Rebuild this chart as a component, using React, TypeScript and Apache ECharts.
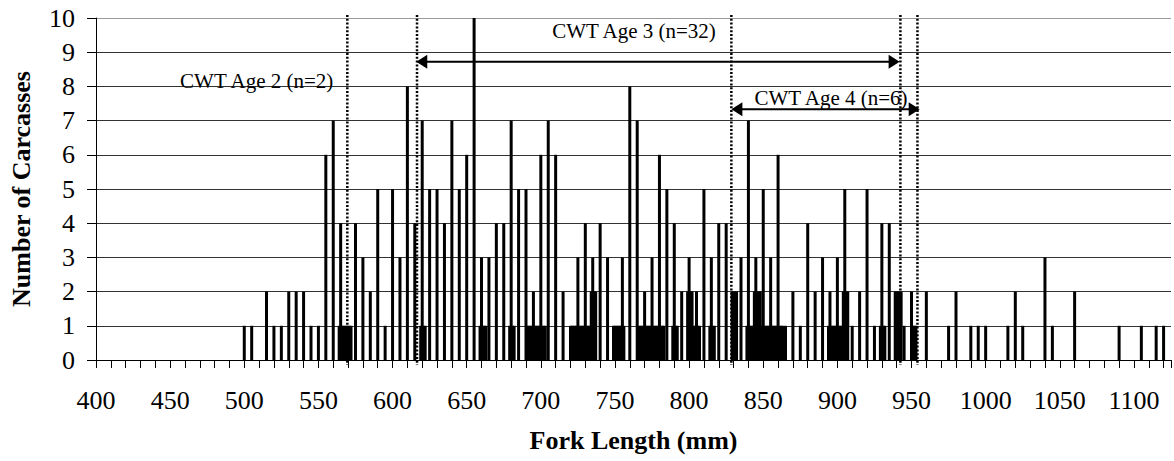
import React, { useEffect, useRef } from "react";
import * as echarts from "echarts";

// Counts of carcasses by fork length (mm), lengths recorded to the nearest 5 mm
const roundedBars: [number, number][] = [
  [500, 1], [505, 1], [515, 2], [520, 1], [525, 1], [530, 2], [535, 2], [540, 2], [545, 1], [550, 1],
  [555, 6], [560, 7], [565, 4], [575, 4], [580, 3], [585, 2], [590, 5], [595, 1], [600, 5], [605, 3],
  [610, 8], [615, 4], [620, 7], [625, 5], [630, 5], [635, 4], [640, 7], [645, 5], [650, 6], [655, 10],
  [660, 3], [665, 3], [670, 4], [675, 4], [680, 7], [685, 5], [690, 5], [695, 2], [700, 6], [705, 7],
  [710, 6], [715, 2], [725, 3], [730, 4], [735, 3], [740, 4], [745, 3], [755, 3], [760, 8], [765, 7],
  [770, 2], [775, 3], [780, 6], [785, 5], [790, 4], [795, 2], [800, 3], [805, 2], [810, 5], [815, 3],
  [820, 4], [825, 4], [835, 3], [840, 7], [845, 3], [850, 5], [855, 3], [860, 6], [865, 1], [870, 2],
  [875, 1], [880, 4], [885, 2], [890, 3], [895, 2], [900, 3], [905, 5], [910, 1], [915, 2], [920, 5],
  [925, 1], [930, 4], [935, 4], [945, 1], [950, 2], [960, 2], [975, 1], [980, 2], [990, 1], [995, 1],
  [1000, 1], [1015, 1], [1020, 2], [1025, 1], [1040, 3], [1045, 1], [1060, 2], [1090, 1], [1105, 1],
  [1115, 1], [1120, 1],
];

// Counts at lengths recorded to the nearest mm
const exactBars: [number, number][] = [
  [564, 1], [566, 1], [567, 1], [568, 1], [569, 1], [570, 1], [571, 1], [572, 1],
  [619, 1], [621, 1], [622, 1],
  [659, 1], [661, 1], [662, 1], [663, 1],
  [679, 1], [681, 1], [682, 1],
  [691, 1], [692, 1], [693, 1], [694, 1], [696, 1], [697, 1], [698, 1], [699, 1], [701, 1], [702, 1], [703, 1],
  [720, 1], [721, 1], [722, 1], [723, 1], [724, 1], [726, 1], [727, 1], [728, 1], [729, 1], [731, 1], [732, 1], [733, 1],
  [734, 2], [736, 2], [737, 2],
  [749, 1], [750, 1], [751, 1], [752, 1], [753, 1], [754, 1], [756, 1],
  [766, 1], [767, 1], [768, 1], [769, 1], [771, 1], [772, 1], [773, 1], [774, 1], [776, 1], [777, 1], [778, 1], [779, 1], [781, 1], [782, 1], [783, 1],
  [789, 1], [791, 1], [792, 1],
  [799, 2], [801, 2], [802, 2], [803, 1], [804, 1], [806, 1], [807, 1],
  [814, 1], [816, 1], [817, 1],
  [829, 2], [830, 2], [831, 2], [832, 2],
  [839, 1], [841, 1], [842, 1], [843, 1], [844, 2], [846, 2], [847, 2], [848, 2], [849, 1], [851, 1], [852, 1], [853, 1], [854, 1],
  [856, 1], [857, 1], [858, 1], [859, 1], [861, 1], [862, 1], [863, 1],
  [894, 1], [896, 1], [897, 1], [898, 1], [899, 1], [901, 1], [902, 1], [903, 1], [904, 2], [906, 2], [907, 2],
  [929, 1], [931, 1], [932, 1],
  [939, 2], [940, 2], [941, 2], [942, 2], [943, 2],
  [951, 1], [952, 1], [953, 1],
];

const xTickLabels = [400, 450, 500, 550, 600, 650, 700, 750, 800, 850, 900, 950, 1000, 1050, 1100];
const yTickLabels = [0, 1, 2, 3, 4, 5, 6, 7, 8, 9, 10];

// Age cut-off lengths (dotted lines)
const cutoffLengths = [569.5, 616.5, 828.5, 942.5, 954];

// Age range arrows: [from length, count level, to length]
const ageArrows: [number, number, number][] = [
  [616, 8.72, 942],
  [828.5, 7.33, 955.5],
];

const ageLabels = ["CWT Age 2 (n=2)", "CWT Age 3 (n=32)", "CWT Age 4 (n=6)"];

const FONT = "'Liberation Serif', 'Times New Roman', serif";

export default function App() {
  const ref = useRef<HTMLDivElement>(null);

  useEffect(() => {
    if (!ref.current) return;
    const chart = echarts.init(ref.current, undefined, { renderer: "svg" });

    const barData = [...roundedBars, ...exactBars].sort((a, b) => a[0] - b[0]);
    const splitColors = yTickLabels.map((v) => (v === 10 ? "#9a9a9a" : "#333333"));
    const labelStyle = (text: string) => ({
      text,
      font: `21px ${FONT}`,
      fill: "#000",
      textAlign: "center",
      textVerticalAlign: "middle",
      align: "center",
      verticalAlign: "middle",
    });

    chart.setOption({
      animation: false,
      backgroundColor: "#fff",
      textStyle: { fontFamily: FONT },
      grid: { left: 95, top: 18, width: 1082, height: 342, containLabel: false },
      xAxis: {
        type: "value",
        min: 400,
        max: 1125,
        interval: 10,
        name: "Fork Length (mm)",
        nameLocation: "middle",
        nameGap: 67,
        nameTextStyle: { fontFamily: FONT, fontSize: 26, fontWeight: "bold", color: "#000" },
        axisLine: { show: true, lineStyle: { color: "#000", width: 1 } },
        axisTick: { show: true, inside: false, length: 8, lineStyle: { color: "#000", width: 1 } },
        axisLabel: {
          margin: 27,
          fontFamily: FONT,
          fontSize: 26,
          color: "#000",
          formatter: (v: number) => (xTickLabels.includes(v) ? String(v) : ""),
        },
        splitLine: { show: false },
      },
      yAxis: {
        type: "value",
        min: 0,
        max: 10,
        interval: 1,
        name: "Number of Carcasses",
        nameLocation: "middle",
        nameGap: 62,
        nameRotate: 90,
        nameTextStyle: { fontFamily: FONT, fontSize: 26, fontWeight: "bold", color: "#000" },
        axisLine: { show: true, lineStyle: { color: "#000", width: 1 } },
        axisTick: { show: true, inside: false, length: 9, lineStyle: { color: "#000", width: 1 } },
        axisLabel: {
          margin: 21,
          fontFamily: FONT,
          fontSize: 26,
          color: "#000",
          formatter: (v: number) => (yTickLabels.includes(v) ? String(v) : ""),
        },
        splitLine: { show: true, lineStyle: { color: splitColors, width: 1 } },
      },
      series: [
        {
          type: "bar",
          data: barData,
          barWidth: 3,
          itemStyle: { color: "#000" },
          z: 2,
        },
        {
          type: "custom",
          data: cutoffLengths.map((v) => [v, 0]),
          encode: { x: 0, y: 1 },
          clip: false,
          z: 4,
          renderItem: (_params: any, api: any) => {
            const top = api.coord([api.value(0), 10]);
            const bottom = api.coord([api.value(0), 0]);
            return {
              type: "line",
              shape: { x1: top[0], y1: top[1] - 3, x2: bottom[0], y2: bottom[1] + 5 },
              style: { stroke: "#000", lineWidth: 2.5, lineDash: [2, 1.8] },
            };
          },
        },
        {
          type: "custom",
          data: ageArrows,
          encode: { x: [0, 2], y: 1 },
          clip: false,
          z: 5,
          renderItem: (_params: any, api: any) => {
            const p1 = api.coord([api.value(0), api.value(1)]);
            const p2 = api.coord([api.value(2), api.value(1)]);
            const L = 11;
            const H = 7;
            return {
              type: "group",
              children: [
                {
                  type: "line",
                  shape: { x1: p1[0] + L - 1, y1: p1[1], x2: p2[0] - L + 1, y2: p2[1] },
                  style: { stroke: "#000", lineWidth: 2 },
                },
                {
                  type: "polygon",
                  shape: { points: [[p1[0], p1[1]], [p1[0] + L, p1[1] - H], [p1[0] + L, p1[1] + H]] },
                  style: { fill: "#000" },
                },
                {
                  type: "polygon",
                  shape: { points: [[p2[0], p2[1]], [p2[0] - L, p2[1] - H], [p2[0] - L, p2[1] + H]] },
                  style: { fill: "#000" },
                },
              ],
            };
          },
        },
      ],
      graphic: [
        { type: "text", x: 256.7, y: 81, z: 10, style: labelStyle(ageLabels[0]) },
        { type: "text", x: 634, y: 31, z: 10, style: labelStyle(ageLabels[1]) },
        { type: "text", x: 831, y: 98, z: 10, style: labelStyle(ageLabels[2]) },
      ],
    });

    return () => chart.dispose();
  }, []);

  return (
    <div
      ref={ref}
      style={{ position: "absolute", left: 0, top: 0, width: 1174, height: 461, overflow: "hidden" }}
    />
  );
}
